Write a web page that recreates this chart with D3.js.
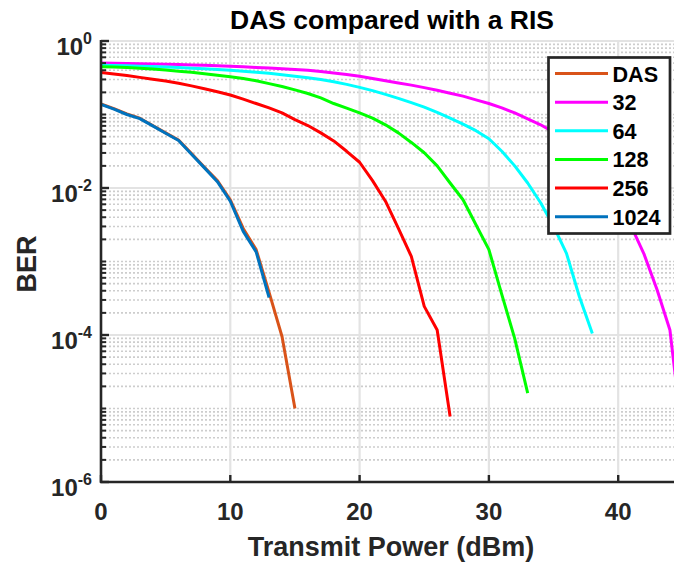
<!DOCTYPE html>
<html>
<head>
<meta charset="utf-8">
<script src="https://cdn.jsdelivr.net/npm/d3@7"></script>
<style>
  html, body { margin: 0; padding: 0; background: #fff; }
  svg { display: block; }
</style>
</head>
<body>
<svg id="chart" width="674" height="563"></svg>
<script>
// Transmit power grid (dBm) shared by every curve
const txPower = [0,1,2,3,4,5,6,7,8,9,10,11,12,13,14,15,16,17,18,19,20,21,22,23,24,25,26,27,28,29,30,31,32,33,34,35,36,37,38,39,40,41,42,43,44,45];

// BER per transmit power step (starting at 0 dBm)
const berDAS  = [0.139,0.120,0.102,0.0891,0.0708,0.0562,0.0450,0.0294,0.0192,0.0126,0.00692,0.00282,0.00145,0.000380,0.0000955,0.0000100];
const ber32   = [0.501,0.499,0.495,0.492,0.488,0.483,0.478,0.472,0.466,0.459,0.452,0.445,0.437,0.428,0.419,0.409,0.399,0.385,0.367,0.349,0.331,0.309,0.288,0.269,0.251,0.232,0.214,0.195,0.178,0.158,0.141,0.123,0.105,0.0871,0.0724,0.0575,0.0437,0.0316,0.0209,0.0126,0.00676,0.00302,0.00126,0.000417,0.000117,0.0000037];
const ber64   = [0.468,0.465,0.460,0.455,0.449,0.442,0.435,0.427,0.419,0.410,0.401,0.389,0.376,0.363,0.347,0.331,0.316,0.299,0.279,0.257,0.234,0.211,0.188,0.166,0.145,0.126,0.107,0.0891,0.0741,0.0603,0.0468,0.0316,0.0200,0.0117,0.00631,0.00302,0.00129,0.000331,0.000105];
const ber128  = [0.447,0.442,0.437,0.427,0.417,0.403,0.389,0.376,0.359,0.343,0.327,0.309,0.288,0.263,0.240,0.216,0.193,0.168,0.141,0.122,0.105,0.0891,0.0724,0.0562,0.0417,0.0302,0.0200,0.0117,0.00692,0.00316,0.00145,0.000355,0.0000891,0.0000162];
const ber256  = [0.372,0.355,0.339,0.320,0.302,0.285,0.266,0.245,0.224,0.204,0.184,0.162,0.141,0.123,0.105,0.0851,0.0708,0.0562,0.0437,0.0316,0.0224,0.0126,0.00661,0.00282,0.00117,0.000245,0.000117,0.00000776];
const ber1024 = [0.137,0.118,0.100,0.0880,0.0700,0.0555,0.0442,0.0288,0.0188,0.0122,0.00660,0.00257,0.00135,0.000324];

const seriesNames  = ["DAS", "32", "64", "128", "256", "1024"];
const seriesValues = [berDAS, ber32, ber64, ber128, ber256, ber1024];
const seriesColors = ["#D95319", "#FF00FF", "#00FFFF", "#00FF00", "#FF0000", "#0072BD"];

const xTicks = [0, 10, 20, 30, 40];
const yTickExponents = [0, -2, -4, -6];

const titleText = "DAS compared with a RIS";
const xLabelText = "Transmit Power (dBm)";
const yLabelText = "BER";

// ---- layout ----
const W = 674, H = 563;
const plot = { left: 101, top: 41, bottom: 482, right: 101 + 45 * 12.93 };
const FONT = "'Liberation Sans', Arial, Helvetica, sans-serif";
const AXIS_COLOR = "#262626";

const svg = d3.select("#chart");

const x = d3.scaleLinear().domain([0, 45]).range([plot.left, plot.right]);
const y = d3.scaleLog().domain([1e-6, 1]).range([plot.bottom, plot.top]);

// minor positions: every k*10^n that is not a labelled decade
const minorVals = [];
for (let e = -6; e < 0; e++) {
  for (let k = 1; k <= 9; k++) {
    const v = k * Math.pow(10, e);
    if (k === 1 && yTickExponents.includes(e)) continue;
    minorVals.push(v);
  }
}
const majorVals = yTickExponents.map(e => Math.pow(10, e));

// ---- grid ----
const grid = svg.append("g");
grid.selectAll("line.minor").data(minorVals).join("line")
  .attr("x1", plot.left).attr("x2", W)
  .attr("y1", d => y(d)).attr("y2", d => y(d))
  .attr("stroke", "#cdcdcd").attr("stroke-width", 1.6)
  .attr("stroke-dasharray", "2,2");
grid.selectAll("line.majy").data(majorVals).join("line")
  .attr("x1", plot.left).attr("x2", W)
  .attr("y1", d => y(d)).attr("y2", d => y(d))
  .attr("stroke", "#e3e3e3").attr("stroke-width", 2.2);
grid.selectAll("line.majx").data(xTicks.filter(d => d > 0)).join("line")
  .attr("x1", d => x(d)).attr("x2", d => x(d))
  .attr("y1", plot.top).attr("y2", plot.bottom)
  .attr("stroke", "#e3e3e3").attr("stroke-width", 2.2);

// ---- curves ----
svg.append("clipPath").attr("id", "plotClip")
  .append("rect").attr("x", plot.left).attr("y", plot.top - 2)
  .attr("width", plot.right - plot.left).attr("height", plot.bottom - plot.top + 2);

const line = d3.line().x((d, i) => x(txPower[i])).y(d => y(d));
svg.append("g").attr("clip-path", "url(#plotClip)")
  .selectAll("path").data(seriesValues).join("path")
  .attr("d", d => line(d))
  .attr("fill", "none")
  .attr("stroke", (d, i) => seriesColors[i])
  .attr("stroke-width", 3)
  .attr("stroke-linejoin", "round");

// ---- axes ----
const axes = svg.append("g");
// y axis line + ticks (inward)
axes.append("line")
  .attr("x1", plot.left).attr("x2", plot.left)
  .attr("y1", plot.top - 1).attr("y2", plot.bottom + 1)
  .attr("stroke", AXIS_COLOR).attr("stroke-width", 2.6);
axes.selectAll("line.ymin").data(minorVals).join("line")
  .attr("x1", plot.left).attr("x2", plot.left + 5)
  .attr("y1", d => y(d)).attr("y2", d => y(d))
  .attr("stroke", AXIS_COLOR).attr("stroke-width", 2);
axes.selectAll("line.ymaj").data(majorVals).join("line")
  .attr("x1", plot.left).attr("x2", plot.left + 8)
  .attr("y1", d => y(d)).attr("y2", d => y(d))
  .attr("stroke", AXIS_COLOR).attr("stroke-width", 2.4);
// x axis line + ticks (inward)
axes.append("line")
  .attr("x1", plot.left - 1).attr("x2", W)
  .attr("y1", plot.bottom).attr("y2", plot.bottom)
  .attr("stroke", AXIS_COLOR).attr("stroke-width", 2.6);
axes.selectAll("line.xmaj").data(xTicks).join("line")
  .attr("x1", d => x(d)).attr("x2", d => x(d))
  .attr("y1", plot.bottom).attr("y2", plot.bottom - 7)
  .attr("stroke", AXIS_COLOR).attr("stroke-width", 2.4);

// tick labels
const tickFont = 24;
axes.selectAll("text.xt").data(xTicks).join("text")
  .attr("x", d => x(d)).attr("y", plot.bottom + 38)
  .attr("text-anchor", "middle")
  .attr("font-family", FONT).attr("font-weight", "bold")
  .attr("font-size", tickFont).attr("fill", AXIS_COLOR)
  .text(d => d);

const yt = axes.selectAll("text.yt").data(yTickExponents).join("text")
  .attr("x", 92).attr("y", d => y(Math.pow(10, d)) + 14)
  .attr("text-anchor", "end")
  .attr("font-family", FONT).attr("font-weight", "bold")
  .attr("font-size", tickFont).attr("fill", AXIS_COLOR);
yt.append("tspan").text("10");
yt.append("tspan").attr("dy", -11).attr("font-size", 16).text(d => String(d));

// axis labels and title
svg.append("text")
  .attr("x", 391).attr("y", 556)
  .attr("text-anchor", "middle")
  .attr("font-family", FONT).attr("font-weight", "bold")
  .attr("font-size", 27).attr("fill", AXIS_COLOR)
  .text(xLabelText);

svg.append("text")
  .attr("transform", "translate(36,264) rotate(-90)")
  .attr("text-anchor", "middle")
  .attr("font-family", FONT).attr("font-weight", "bold")
  .attr("font-size", 27).attr("fill", AXIS_COLOR)
  .text(yLabelText);

svg.append("text")
  .attr("x", 392).attr("y", 29)
  .attr("text-anchor", "middle")
  .attr("font-family", FONT).attr("font-weight", "bold")
  .attr("font-size", 26.5).attr("fill", "#000")
  .text(titleText);

// ---- legend ----
const lg = { x: 548.5, y: 57.5, w: 121.5, h: 176, row0: 73.5, step: 28.65 };
const legend = svg.append("g");
legend.append("rect")
  .attr("x", lg.x).attr("y", lg.y).attr("width", lg.w).attr("height", lg.h)
  .attr("fill", "#fff").attr("stroke", AXIS_COLOR).attr("stroke-width", 2.7);
const rows = legend.selectAll("g.row").data(seriesNames).join("g")
  .attr("transform", (d, i) => `translate(0,${lg.row0 + i * lg.step})`);
rows.append("line")
  .attr("x1", 555).attr("x2", 608).attr("y1", 0).attr("y2", 0)
  .attr("stroke", (d, i) => seriesColors[i]).attr("stroke-width", 3);
rows.append("text")
  .attr("x", 612.5).attr("y", 8)
  .attr("font-family", FONT).attr("font-weight", "bold")
  .attr("font-size", 21.6).attr("fill", "#000")
  .text(d => d);
</script>
</body>
</html>
